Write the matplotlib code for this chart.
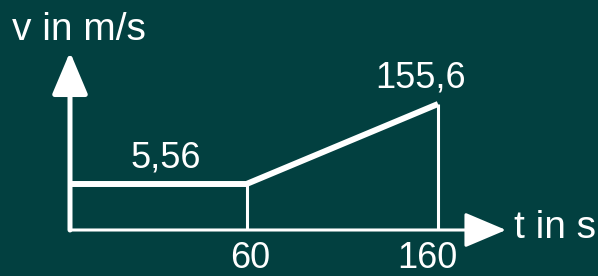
import numpy as np
import matplotlib.pyplot as plt

plt.rcParams['font.family'] = ['Liberation Sans Narrow', 'Liberation Sans', 'DejaVu Sans']

# Geschwindigkeit-Zeit-Diagramm (schematisch)
t = [0, 60, 160]
v = [5.56, 5.56, 155.6]
t_labels = ['60', '160']
v_labels = ['5,56', '155,6']

bg = '#024040'
fg = 'white'

# Schematische Achsen: nicht maßstäblich, stückweise linear
t_knots, t_px = [0, 60, 160], [0, 176.5, 368]
v_knots, v_px = [0, 5.56, 155.6], [0, 46, 126]


def piecewise(xk, yk):
    xk = np.asarray(xk, float)
    yk = np.asarray(yk, float)

    def f(x):
        x = np.asarray(x, float)
        y = np.interp(x, xk, yk)
        y = np.where(x < xk[0], yk[0] + (x - xk[0]) * (yk[1] - yk[0]) / (xk[1] - xk[0]), y)
        y = np.where(x > xk[-1], yk[-1] + (x - xk[-1]) * (yk[-1] - yk[-2]) / (xk[-1] - xk[-2]), y)
        return y
    return f


W, H = 598, 276
x0, y0 = 70, 230      # Ursprung in Pixeln
xw, yh = 436, 178     # Länge der Achsen bis zur Pfeilspitze

fig = plt.figure(figsize=(W / 100, H / 100), dpi=100, facecolor=bg)
ax = fig.add_axes([x0 / W, (H - y0) / H, xw / W, yh / H])
ax.set_facecolor('none')
ax.set_xscale('function', functions=(piecewise(t_knots, t_px), piecewise(t_px, t_knots)))
ax.set_yscale('function', functions=(piecewise(v_knots, v_px), piecewise(v_px, v_knots)))
t_max = float(piecewise(t_px, t_knots)(xw))
v_max = float(piecewise(v_px, v_knots)(yh))
ax.set_xlim(0, t_max)
ax.set_ylim(0, v_max)
ax.axis('off')

# Achsen mit Pfeilen
arrow = '-|>,head_length=2.6,head_width=1.1'
ax.annotate('', xy=(t_max, 0), xytext=(0, 0),
            arrowprops=dict(arrowstyle=arrow, mutation_scale=10, lw=2.2, color=fg,
                            shrinkA=0, shrinkB=0), annotation_clip=False)
ax.annotate('', xy=(0, v_max), xytext=(0, 0),
            arrowprops=dict(arrowstyle=arrow, mutation_scale=10, lw=3.6, color=fg,
                            shrinkA=0, shrinkB=0), annotation_clip=False)

# Verlauf v(t)
ax.plot(t, v, color=fg, lw=4.3, solid_joinstyle='miter', solid_capstyle='butt', clip_on=False)
ax.vlines(t[1:], 0, v[1:], color=fg, lw=2.2)

fs_num = 26
fs_lab = 28
ax.annotate(v_labels[0], xy=(30, v[0]), xytext=(7, 16), textcoords='offset pixels',
            ha='center', va='baseline', color=fg, fontsize=fs_num)
ax.annotate(v_labels[1], xy=(t[2], v[2]), xytext=(-17, 17), textcoords='offset pixels',
            ha='center', va='baseline', color=fg, fontsize=fs_num)
ax.annotate(t_labels[0], xy=(t[1], 0), xytext=(3.5, -38), textcoords='offset pixels',
            ha='center', va='baseline', color=fg, fontsize=fs_num, annotation_clip=False)
ax.annotate(t_labels[1], xy=(t[2], 0), xytext=(-11, -38), textcoords='offset pixels',
            ha='center', va='baseline', color=fg, fontsize=fs_num, annotation_clip=False)

ax.annotate('v in m/s', xy=(0, 1), xycoords='axes fraction', xytext=(-58, 12),
            textcoords='offset pixels', ha='left', va='baseline', color=fg, fontsize=fs_lab)
ax.annotate('t in s', xy=(1, 0), xycoords='axes fraction', xytext=(8, -8),
            textcoords='offset pixels', ha='left', va='baseline', color=fg, fontsize=fs_lab)

fig.savefig('out.png', dpi=100, facecolor=bg)
